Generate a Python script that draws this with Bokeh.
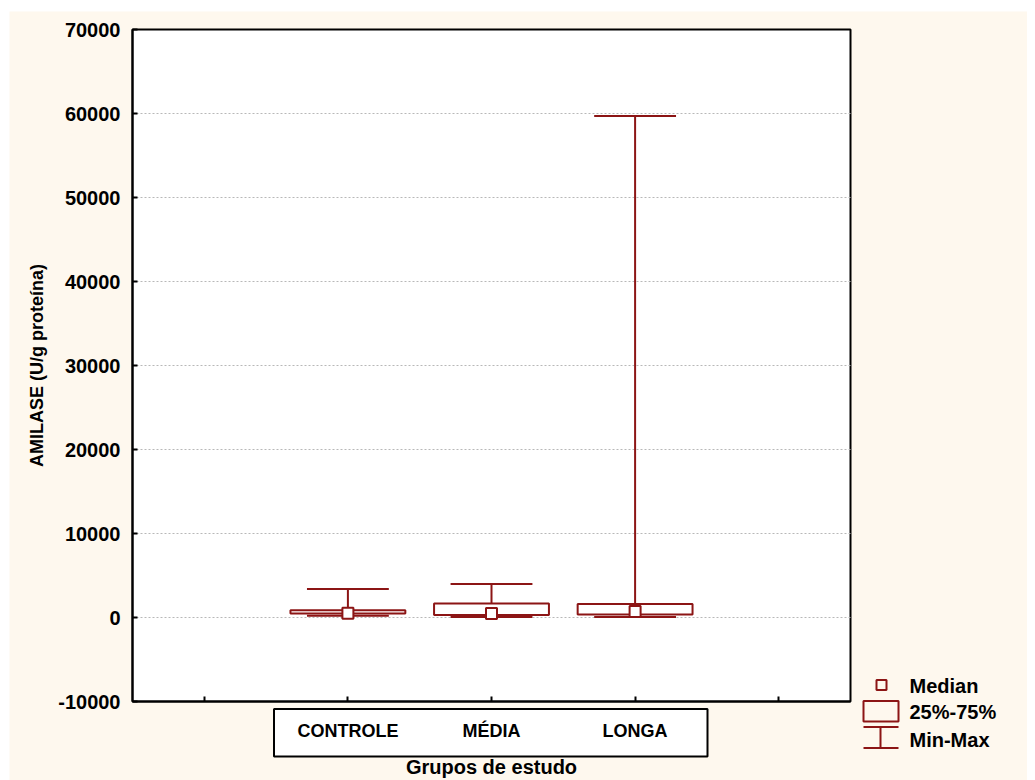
from bokeh.plotting import figure
from bokeh.layouts import column, row
from bokeh.models import Range1d, FixedTicker, Spacer
from bokeh.core.properties import value
from bokeh.embed import file_html
from bokeh.resources import INLINE

# ---- data ----
categories = ["CONTROLE", "MÉDIA", "LONGA"]
cat_pos = [1, 2, 3]
mins = [220, 50, 50]
q1s = [480, 300, 350]
medians = [520, 480, 720]
q3s = [870, 1680, 1620]
maxs = [3400, 4000, 59700]
y_ticks = [-10000, 0, 10000, 20000, 30000, 40000, 50000, 60000, 70000]
x_ticks = [0, 1, 2, 3, 4]
legend_labels = ["Median", "25%-75%", "Min-Max"]

RED = "#8C1515"
CREAM = "#FEF8EE"
FONT = "Liberation Sans"

# plot-box extent in data units
X0, X1 = -0.5, 4.5
Y0, Y1 = -10000, 70000

# page layout (pixels): plot box spans 132..850 x 29..701; canvas (frame) spans 9..1027 x 11..780
BOX_L, BOX_R, BOX_T, BOX_B = 132, 850, 29, 701
FR_L, FR_T, FR_R, FR_B = 9, 11, 1027, 780
ux = (BOX_R - BOX_L) / (X1 - X0)      # px per x unit
uy = (BOX_B - BOX_T) / (Y1 - Y0)      # px per y unit

def dx(px):
    return X0 + (px - BOX_L) / ux

def dy(py):
    return Y1 - (py - BOX_T) / uy

p = figure(x_range=Range1d(dx(FR_L), dx(FR_R)), y_range=Range1d(dy(FR_B), dy(FR_T)),
           frame_width=FR_R - FR_L, frame_height=FR_B - FR_T,
           min_border_left=0, min_border_top=0, min_border_right=0, min_border_bottom=0,
           output_backend="svg", toolbar_location=None,
           background_fill_color=CREAM, border_fill_color=CREAM)
p.outline_line_color = None
p.grid.visible = False

# plot box
p.quad(left=[X0], right=[X1], bottom=[Y0], top=[Y1], fill_color="white",
       line_color="black", line_width=2)
# horizontal dotted gridlines at interior ticks
inner = [t for t in y_ticks if Y0 < t < Y1]
p.segment(x0=[X0] * len(inner), x1=[X1] * len(inner), y0=inner, y1=inner,
          line_color="#B8B8B8", line_dash="2 2", line_width=1)

# y axis fixed at the left edge of the plot box
ya = p.yaxis[0]
ya.fixed_location = X0
ya.ticker = FixedTicker(ticks=y_ticks)
ya.bounds = (Y0, Y1)
ya.major_label_overrides = {t: str(t) for t in y_ticks}
ya.axis_label = "AMILASE (U/g proteína)"
ya.axis_label_text_font = FONT
ya.axis_label_text_font_style = "bold"
ya.axis_label_text_font_size = "18px"
ya.axis_label_text_color = "black"
ya.axis_label_standoff = 8
ya.major_label_text_font = FONT
ya.major_label_text_font_style = "bold"
ya.major_label_text_font_size = "20px"
ya.major_label_text_color = "black"
ya.major_label_standoff = 12
ya.major_tick_in = 5
ya.major_tick_out = 0
ya.minor_tick_line_color = None
ya.axis_line_width = 2
ya.major_tick_line_width = 2

# category box (behind x tick labels)
p.quad(left=[dx(273.5)], right=[dx(707)], top=[dy(708.5)], bottom=[dy(756)],
       fill_color="white", line_color="black", line_width=2)

# x axis fixed at the bottom of the plot box
xa = p.xaxis[0]
xa.fixed_location = Y0
xa.bounds = (X0, X1)
xa.ticker = FixedTicker(ticks=x_ticks)
overrides = {0: "", 4: ""}
for c, lab in zip(cat_pos, categories):
    overrides[c] = lab
xa.major_label_overrides = overrides
xa.axis_label = "Grupos de estudo"
xa.axis_label_text_font = FONT
xa.axis_label_text_font_style = "bold"
xa.axis_label_text_font_size = "20px"
xa.axis_label_text_color = "black"
xa.axis_label_standoff = 12
xa.major_label_text_font = FONT
xa.major_label_text_font_style = "bold"
xa.major_label_text_font_size = "18px"
xa.major_label_text_color = "black"
xa.major_label_standoff = 19
xa.major_tick_in = 5
xa.major_tick_out = 0
xa.minor_tick_line_color = None
xa.axis_line_width = 2
xa.major_tick_line_width = 2

# whiskers
p.segment(x0=cat_pos, y0=q3s, x1=cat_pos, y1=maxs, line_color=RED, line_width=2)
p.segment(x0=cat_pos, y0=q1s, x1=cat_pos, y1=mins, line_color=RED, line_width=2)
cap = 0.285
p.segment(x0=[c - cap for c in cat_pos], y0=maxs, x1=[c + cap for c in cat_pos], y1=maxs,
          line_color=RED, line_width=2)
p.segment(x0=[c - cap for c in cat_pos], y0=mins, x1=[c + cap for c in cat_pos], y1=mins,
          line_color=RED, line_width=2)
# boxes
p.vbar(x=cat_pos, width=0.8, bottom=q1s, top=q3s, fill_color="white",
       line_color=RED, line_width=2)
# medians
p.scatter(x=cat_pos, y=medians, marker="square", size=11, fill_color="white",
          line_color=RED, line_width=2)

# legend (drawn as glyphs in the cream area right of the plot box)
p.scatter(x=[dx(881)], y=[dy(684.5)], marker="square", size=10, fill_color=CREAM,
          line_color=RED, line_width=2)
p.quad(left=[dx(863)], right=[dx(898)], top=[dy(700.5)], bottom=[dy(721)],
       fill_alpha=0, line_color=RED, line_width=2)
p.segment(x0=[dx(863), dx(863), dx(880)], x1=[dx(898), dx(898), dx(880)],
          y0=[dy(726.5), dy(747.5), dy(726.5)], y1=[dy(726.5), dy(747.5), dy(747.5)],
          line_color=RED, line_width=2)
p.text(x=[dx(909)] * 3, y=[dy(685), dy(711), dy(739)], text=legend_labels,
       text_font=value(FONT), text_font_style="bold", text_font_size="20px",
       text_baseline="middle", text_align="left", text_color="black")

layout = column(Spacer(height=FR_T), row(Spacer(width=FR_L), p))
open("out.html", "w").write(file_html(layout, INLINE))
